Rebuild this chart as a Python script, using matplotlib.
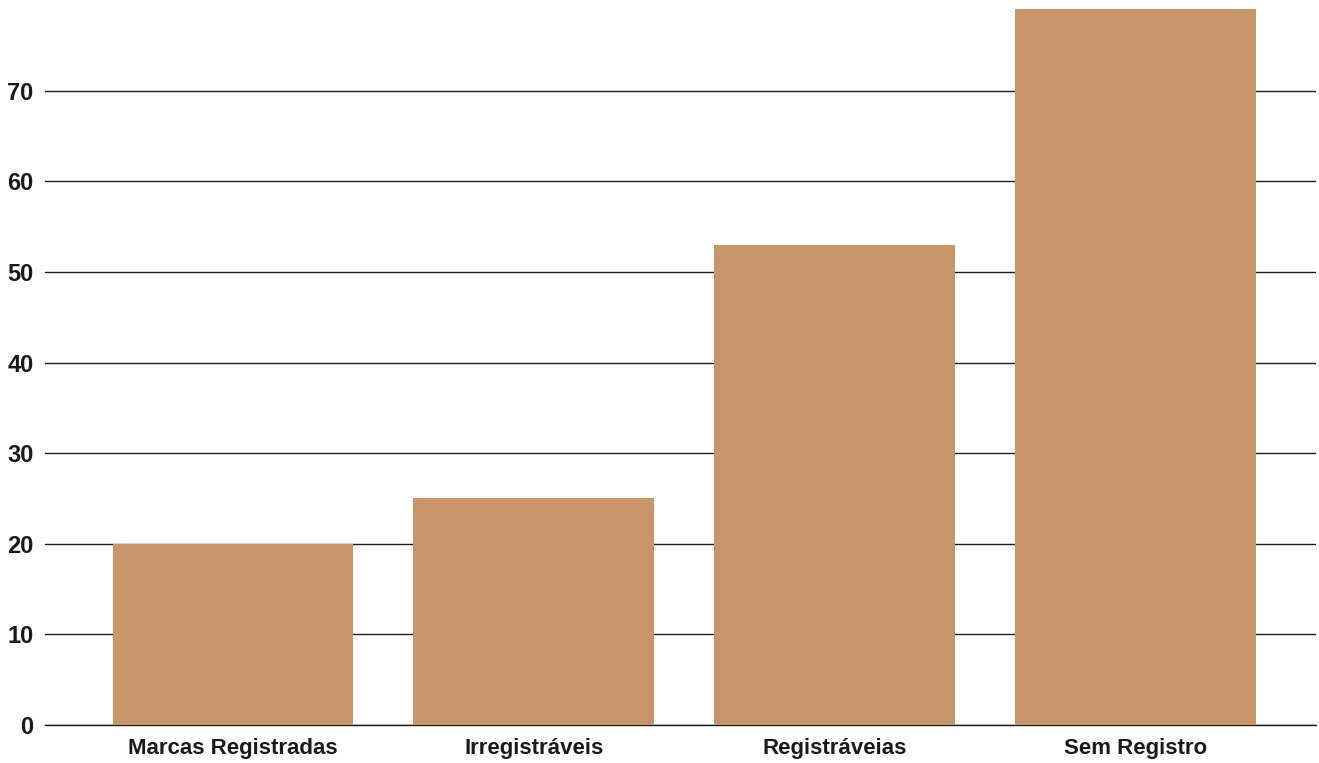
import matplotlib
matplotlib.use("Agg")
from matplotlib import pyplot as plt

# categorias e valores
categorias = ["Marcas Registradas", "Irregistráveis", "Registráveias", "Sem Registro"]
valores = [20, 25, 53, 79]
ticks_y = [0, 10, 20, 30, 40, 50, 60, 70]

plt.rcParams["font.family"] = ["Liberation Sans", "DejaVu Sans"]
plt.rcParams["font.weight"] = "bold"

fig = plt.figure(figsize=(13.19, 7.63), dpi=100)
ax = fig.add_axes([0.034, 0.0498, 0.9637, 0.9502])

x = range(len(categorias))
ax.bar(x, valores, width=0.8, color="#C8956A", zorder=3)

ax.set_ylim(0, 80)
ax.set_xlim(-0.625, 3.6)
ax.set_yticks(ticks_y)
ax.set_xticks(list(x))
ax.set_xticklabels(categorias)

# linhas de grade horizontais
ax.yaxis.grid(True, color="#1a1a1a", linewidth=1.0, zorder=1)
ax.set_axisbelow(True)
for s in ["top", "right", "left"]:
    ax.spines[s].set_visible(False)
ax.spines["bottom"].set_color("#1a1a1a")
ax.spines["bottom"].set_linewidth(1.0)

ax.tick_params(axis="y", length=0, pad=8, labelsize=17, labelcolor="#1a1a1a")
ax.tick_params(axis="x", length=0, pad=9, labelsize=16, labelcolor="#1a1a1a")
for lbl in ax.get_xticklabels() + ax.get_yticklabels():
    lbl.set_fontweight("bold")

fig.savefig("out.png", dpi=100)
